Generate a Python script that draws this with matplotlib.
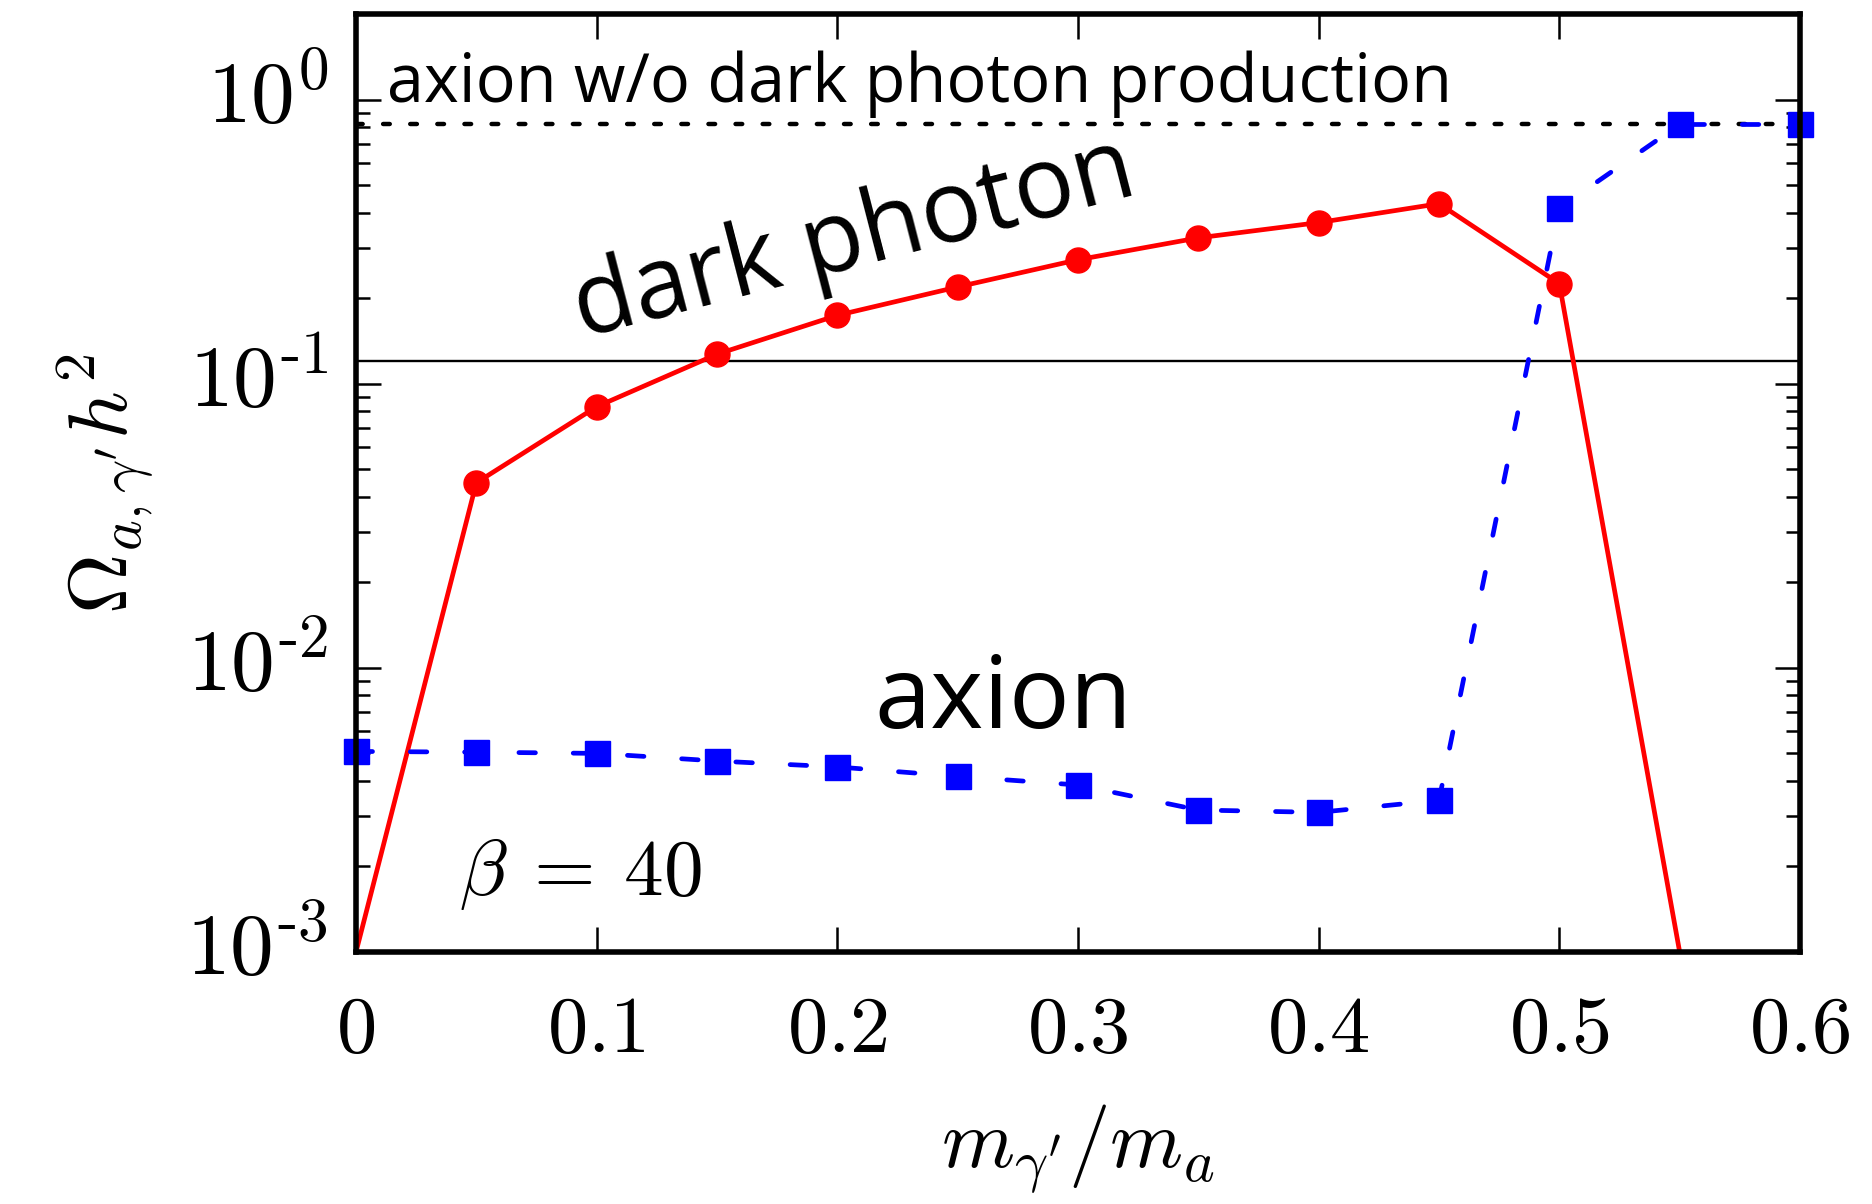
import matplotlib
matplotlib.use("Agg")
import matplotlib.pyplot as plt
import numpy as np

# relic abundance vs mass ratio, beta = 40
mass_ratio = [0.0, 0.05, 0.1, 0.15, 0.2, 0.25, 0.3, 0.35, 0.4, 0.45, 0.5, 0.55, 0.6]
omega_dark_photon = [1.0e-3, 0.0448, 0.083, 0.127, 0.174, 0.219, 0.273, 0.326, 0.369, 0.43, 0.225, 1.0e-3]
omega_axion = [0.00508, 0.00505, 0.005, 0.0047, 0.00448, 0.00415, 0.00387, 0.00316, 0.0031, 0.00342, 0.415, 0.817, 0.817]
omega_no_dark_photon = 0.82
omega_observed = 0.12

x_ticks = [0, 0.1, 0.2, 0.3, 0.4, 0.5, 0.6]
x_tick_labels = [r"$0$", r"$0.1$", r"$0.2$", r"$0.3$", r"$0.4$", r"$0.5$", r"$0.6$"]
y_ticks = [1e-3, 1e-2, 1e-1, 1e0]
y_tick_labels = [r"$10^{\text{-}3}$", r"$10^{\text{-}2}$", r"$10^{\text{-}1}$", r"$10^{0}$"]

plt.rcParams["mathtext.fontset"] = "cm"
plt.rcParams["font.family"] = ["Open Sans", "DejaVu Sans"]

fig = plt.figure(figsize=(18.72, 12.04), dpi=100)
ax = fig.add_axes([356 / 1872, 1 - 952 / 1204, (1800 - 356) / 1872, (952 - 14) / 1204])

ax.axhline(omega_no_dark_photon, color="black", lw=3.2, ls=(0, (1.5, 4.6)), dash_capstyle="round", zorder=2)
ax.axhline(omega_observed, color="black", lw=1.7, zorder=2)

n_dp = len(omega_dark_photon)
ax.plot(mass_ratio[:n_dp], omega_dark_photon, color="red", lw=3.4, marker="o", ms=18,
        markevery=list(range(1, n_dp - 1)), zorder=3)
ax.plot(mass_ratio, omega_axion, color="blue", lw=3.4, ls=(0, (3.5, 8)), dash_capstyle="round",
        marker="s", ms=18, clip_on=False, zorder=4)

ax.set_yscale("log")
ax.set_xlim(0, 0.6)
ax.set_ylim(1e-3, 2.0)

ax.set_xticks(x_ticks)
ax.set_xticklabels(x_tick_labels)
ax.set_yticks(y_ticks)
ax.set_yticklabels(y_tick_labels)
ax.xaxis.set_minor_locator(matplotlib.ticker.NullLocator())
ax.yaxis.set_minor_locator(matplotlib.ticker.LogLocator(base=10, subs=np.arange(2, 10)))
ax.yaxis.set_minor_formatter(matplotlib.ticker.NullFormatter())

ax.tick_params(which="both", direction="in", top=True, right=True, labelsize=58, width=1.8)
ax.tick_params(which="major", length=18)
ax.tick_params(axis="x", which="major", pad=28)
ax.tick_params(axis="y", which="major", pad=20, labelsize=63)
ax.tick_params(which="minor", length=10)
for lbl in ax.get_yticklabels():
    lbl.set_verticalalignment("center")
for sp in ax.spines.values():
    sp.set_linewidth(4)
    sp.set_zorder(5)

ax.set_xlabel(r"$m_{\gamma'}/m_a$", fontsize=60, labelpad=22)
ax.set_ylabel(r"$\Omega_{a,\gamma'}h^2$", fontsize=60, labelpad=22)

ax.text(0.013, 0.98, "axion w/o dark photon production", fontsize=48, ha="left", va="baseline")
ax.text(0.207, 0.32, "dark photon", fontsize=72, ha="center", va="center", rotation=14.5)
ax.text(0.269, 0.0076, "axion", fontsize=73, ha="center", va="center")
ax.text(0.043, 0.00188, r"$\beta\:=\:40$", fontsize=57, ha="left", va="center")

fig.savefig("out.png", dpi=100)
